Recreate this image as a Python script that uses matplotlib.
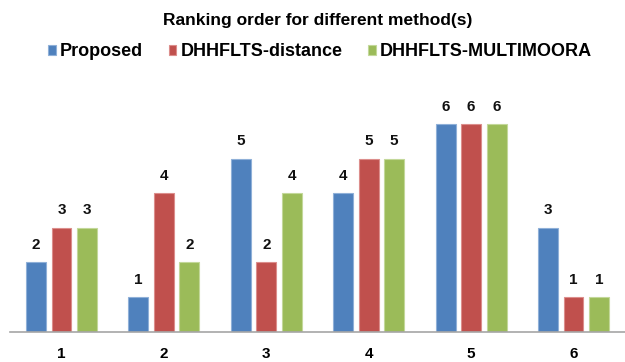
import matplotlib
matplotlib.use("Agg")
import matplotlib.pyplot as plt
import numpy as np

plt.rcParams['font.family'] = ['Liberation Sans', 'DejaVu Sans']

categories = ["1", "2", "3", "4", "5", "6"]
series_names = ["Proposed", "DHHFLTS-distance", "DHHFLTS-MULTIMOORA"]
proposed = [2, 1, 5, 4, 6, 3]
dhhflts_distance = [3, 4, 2, 5, 6, 1]
dhhflts_multimoora = [3, 2, 4, 5, 6, 1]

colors = ["#4F81BD", "#C0504D", "#9BBB59"]
edges = ["#8FB0D8", "#DC8E8C", "#C3D89A"]

fig = plt.figure(figsize=(6.25, 3.62), dpi=100)
ax = fig.add_axes([10.3 / 625, 30.5 / 362, 614.4 / 625, 242.2 / 362])

x = np.arange(len(categories))
width = 0.195
step = 0.249
all_series = [proposed, dhhflts_distance, dhhflts_multimoora]
handles = []
for i, (vals, name) in enumerate(zip(all_series, series_names)):
    pos = x + (i - 1) * step
    bars = ax.bar(pos, vals, width=width, color=colors[i], edgecolor=edges[i],
                  linewidth=0.8, label=name, zorder=2)
    handles.append(bars)
    for xp, v in zip(pos, vals):
        ax.text(xp, v + 0.3, str(v), ha="center", va="bottom",
                fontsize=11, fontweight="bold", color="#111111")

ax.set_xlim(-0.5, len(categories) - 0.5)
ax.set_ylim(0, 7)
ax.set_yticks([])
ax.set_xticks(x)
ax.set_xticklabels(categories, fontsize=11, fontweight="bold")
ax.tick_params(axis="x", length=0, pad=11.5)
for s in ["top", "right", "left"]:
    ax.spines[s].set_visible(False)
ax.spines["bottom"].set_color("#A6A6A6")
ax.spines["bottom"].set_linewidth(1.2)

fig.text(318 / 625, 1 - 21 / 362, "Ranking order for different method(s)",
         ha="center", va="center", fontsize=12.5, fontweight="bold")

leg = fig.legend(handles=handles, labels=series_names, loc="center",
                 bbox_to_anchor=(320 / 625, 1 - 52 / 362), ncol=3, frameon=False,
                 prop={"size": 13, "weight": "bold"}, handlelength=0.44,
                 handleheight=0.44, handletextpad=0.22, columnspacing=1.42)

fig.savefig("out.png", dpi=100, facecolor="white")
